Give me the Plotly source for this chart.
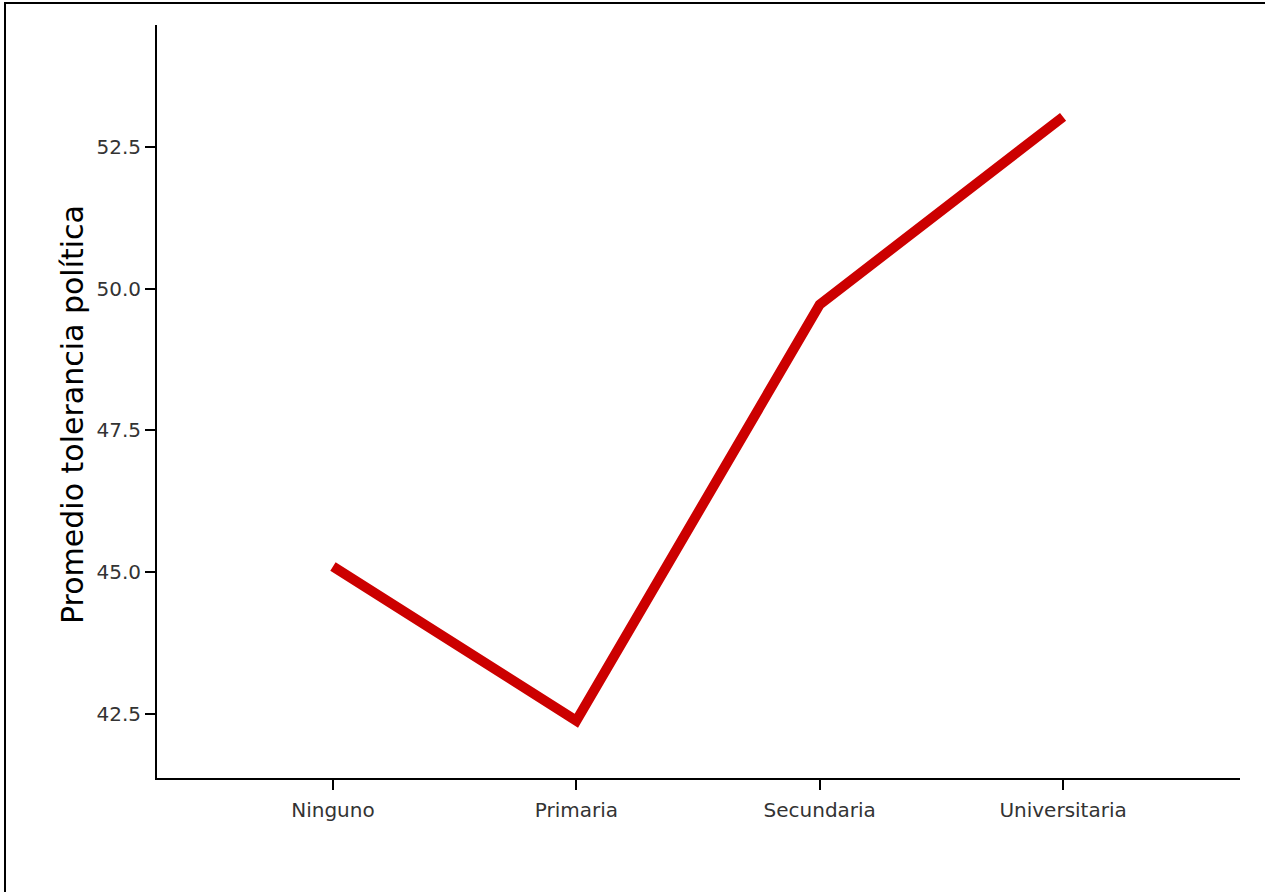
import plotly.graph_objects as go

categories = ["Ninguno", "Primaria", "Secundaria", "Universitaria"]
values = [45.1, 42.38, 49.72, 53.03]
y_ticks = [42.5, 45.0, 47.5, 50.0, 52.5]
y_tick_labels = ["42.5", "45.0", "47.5", "50.0", "52.5"]
y_title = "Promedio tolerancia política"

fig = go.Figure()
fig.add_trace(go.Scatter(
    x=list(range(len(categories))), y=values, mode="lines",
    line=dict(color="#CC0000", width=10),
    showlegend=False,
))

L, R, T, B = 157, 25, 25, 114
W, H = 1265, 892
pw, ph = W - L - R, H - T - B

fig.update_layout(
    width=W, height=H,
    margin=dict(l=L, r=R, t=T, b=B),
    plot_bgcolor="white", paper_bgcolor="white",
    font=dict(family="DejaVu Sans", color="#333333"),
    xaxis=dict(
        range=[-0.723, 3.727],
        tickvals=list(range(len(categories))), ticktext=categories,
        showgrid=False, zeroline=False,
        showline=True, linecolor="black", linewidth=2,
        ticks="outside", ticklen=10, tickwidth=2, tickcolor="black",
        tickfont=dict(size=20, color="#333333"),
        ticklabelstandoff=3,
    ),
    yaxis=dict(
        range=[41.37, 54.65],
        tickvals=y_ticks, ticktext=y_tick_labels,
        showgrid=False, zeroline=False,
        showline=True, linecolor="black", linewidth=2,
        ticks="outside", ticklen=10, tickwidth=2, tickcolor="black",
        tickfont=dict(size=20, color="#333333"),
    ),
    annotations=[dict(
        text=y_title, textangle=-90, showarrow=False,
        xref="paper", yref="paper",
        x=(72 - L) / pw, y=(H - B - 415) / ph,
        xanchor="center", yanchor="middle",
        font=dict(family="DejaVu Sans", size=30, color="black"),
    )],
    shapes=[dict(
        type="rect", xref="paper", yref="paper",
        x0=(5 - L) / pw, x1=1.2, y0=-0.3, y1=1 + (T - 3) / ph,
        line=dict(color="black", width=2), fillcolor="rgba(0,0,0,0)",
        layer="below",
    )],
)

fig.write_html(
    "out.html",
    config={"displayModeBar": False},
    post_script="document.body.style.margin='0';document.body.style.overflow='hidden';",
)
